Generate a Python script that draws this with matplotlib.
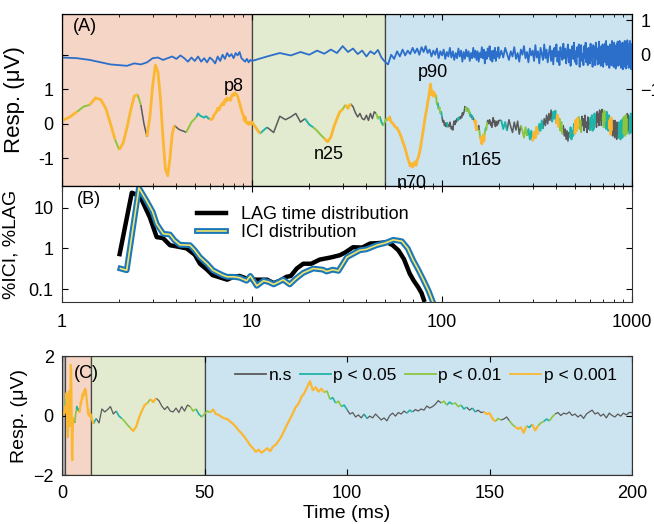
import numpy as np
import matplotlib
matplotlib.use('Agg')
import matplotlib.pyplot as plt
from matplotlib.lines import Line2D

plt.rcParams['font.family'] = ['Liberation Sans', 'DejaVu Sans']

# ---- response (uV): 0.1 ms steps to 10 ms, 1 ms steps to 200 ms, 5 ms steps to 1000 ms
resp_fine = [
    0.0, 0.05, 0.1, 0.08, 0.05, 0.0, 0.05, 0.1, 0.12, 0.1,
    0.09, 0.2, 0.35, 0.5, 0.55, 0.75, 0.7, 0.45, 0.0, -0.45,
    -0.75, -0.55, -0.1, 0.4, 0.8, 0.85, 0.55, 0.0, -0.37, 0.2,
    1.1, 1.7, 1.5, 0.7, -0.4, -1.3, -1.5, -1.0, -0.3, -0.05,
    -0.1, -0.15, -0.18, -0.2, -0.22, -0.25, -0.15, -0.05, 0.05, 0.1,
    0.15, 0.2, 0.3, 0.25, 0.22, 0.2, 0.18, 0.22, 0.2, 0.15,
    0.15, 0.12, 0.15, 0.25, 0.3, 0.35, 0.45, 0.4, 0.5, 0.55,
    0.6, 0.55, 0.7, 0.65, 0.75, 0.7, 0.72, 0.68, 0.8, 0.85,
    0.82, 0.9, 0.88, 0.85, 0.8, 0.7, 0.6, 0.5, 0.4, 0.3,
    0.25, 0.1, 0.2, 0.05, 0.02, 0.05, -0.02, 0.05, 0.0, 0.05,
]
resp_mid = [
    0.05, -0.28, -0.1, -0.25, 0.22, 0.12, 0.2, 0.3, 0.05, 0.15,
    -0.02, -0.1, -0.2, -0.32, -0.42, -0.52, -0.38, -0.08, 0.15, 0.35,
    0.42, 0.55, 0.45, 0.58, 0.5, 0.32, 0.2, 0.3, 0.15, 0.12,
    0.25, 0.1, 0.3, 0.15, 0.35, 0.3, 0.15, 0.22, 0.05, -0.05,
    0.05, 0.15, 0.1, 0.2, 0.05, 0.02, -0.05, -0.1, -0.12, -0.2,
    -0.28, -0.38, -0.5, -0.6, -0.72, -0.85, -1.0, -1.1, -1.22, -1.15,
    -1.25, -1.18, -1.1, -1.2, -1.05, -0.98, -0.85, -0.7, -0.5, -0.3,
    -0.12, 0.08, 0.28, 0.4, 0.62, 0.75, 0.95, 1.15, 0.85, 0.95,
    0.8, 0.9, 0.78, 0.82, 0.55, 0.6, 0.42, 0.48, 0.3, 0.35,
    0.2, 0.05, 0.1, -0.05, 0.02, -0.08, 0.05, -0.1, -0.02, -0.08,
    0.05, -0.05, -0.15, -0.08, -0.18, 0.0, 0.08, -0.02, 0.1, 0.05,
    0.15, 0.08, 0.18, 0.12, 0.2, 0.15, 0.22, 0.18, 0.32, 0.25,
    0.3, 0.38, 0.5, 0.42, 0.48, 0.35, 0.45, 0.38, 0.42, 0.3,
    0.35, 0.22, 0.28, 0.18, 0.25, 0.12, 0.18, 0.1, 0.12, 0.05,
    0.08, -0.1, -0.2, -0.1, -0.15, -0.12, -0.05, -0.18, -0.3, -0.38,
    -0.45, -0.4, -0.58, -0.35, -0.4, -0.3, -0.5, -0.35, -0.25, -0.2,
    -0.12, -0.18, -0.05, 0.05, 0.1, 0.0, 0.08, 0.05, 0.12, 0.0,
    0.05, -0.05, 0.02, -0.1, 0.05, 0.12, 0.18, 0.05, 0.1, -0.02,
    0.05, -0.08, 0.08, 0.0, -0.05, 0.05, -0.02, 0.08, 0.02, 0.1,
]
resp_late = [
    0.1, -0.15, 0.05, -0.2, 0.12, -0.08, -0.25, 0.05, -0.18, 0.08,
    -0.3, -0.05, -0.2, -0.4, -0.1, -0.35, -0.15, -0.45, -0.2, -0.5,
    -0.25, -0.4, -0.1, -0.3, 0.0, -0.2, 0.1, -0.15, 0.15, -0.05,
    0.25, 0.0, 0.3, 0.1, 0.4, 0.05, 0.35, 0.15, 0.38, 0.0,
    0.25, -0.1, 0.15, -0.2, 0.05, -0.3, -0.05, -0.35, -0.15, -0.45,
    -0.2, -0.5, -0.25, -0.4, -0.1, -0.45, -0.2, -0.35, 0.0, -0.3,
    0.1, -0.2, 0.15, -0.1, 0.2, -0.15, 0.1, -0.25, 0.22, -0.05,
    0.15, -0.2, 0.25, -0.1, 0.05, -0.25, 0.2, -0.15, 0.1, -0.2,
    0.18, -0.1, 0.25, -0.2, 0.1, -0.15, 0.3, 0.0, 0.25, -0.1,
    0.35, 0.05, 0.3, -0.05, 0.4, 0.1, 0.35, -0.05, 0.42, 0.1,
    0.3, -0.1, 0.38, 0.05, 0.25, -0.15, 0.35, 0.0, 0.2, -0.2,
    0.25, -0.15, 0.1, -0.3, 0.18, -0.2, 0.05, -0.35, 0.1, -0.25,
    0.0, -0.4, 0.1, -0.3, -0.05, -0.45, 0.05, -0.35, -0.1, -0.42,
    0.05, -0.3, -0.1, -0.45, 0.1, -0.25, 0.0, -0.4, 0.15, -0.3,
    0.2, -0.2, 0.1, -0.35, 0.25, -0.15, 0.15, -0.3, 0.3, -0.1,
    0.25, -0.2, 0.1, -0.3, 0.2, -0.05, 0.3, -0.25, 0.15, -0.1,
]
resp_t = np.concatenate([np.round(np.arange(0, 10, 0.1), 1),
                         np.arange(10, 200, 1.0),
                         np.arange(205, 1001, 5.0)])
resp = np.array(resp_fine + resp_mid + resp_late)

# significance: start time of each run, level (0 n.s, 1 p<.05, 2 p<.01, 3 p<.001)
sig_start = [0.0, 0.5, 1.2, 1.4, 1.85, 2.0, 2.5, 2.6, 2.8, 3.9, 4.5, 5.1, 6.0,
             10.5, 11.5, 19, 21, 23.5, 30, 31, 33, 45, 47, 49, 52,
             92, 94, 96, 98, 100, 106, 107, 121, 123, 133, 135, 137, 140,
             142, 144, 145, 148, 152, 154, 157, 159, 163, 165, 167, 169,
             171, 173, 200, 220, 260, 280, 300, 320, 340, 380, 400, 410,
             430, 470, 500, 520, 540, 600, 640, 700, 720, 760, 780, 850,
             900, 940, 970]
sig_level = [1, 3, 2, 3, 2, 3, 2, 0, 3, 0, 2, 1, 3,
             1, 0, 1, 2, 3, 2, 3, 0, 2, 1, 2, 3,
             2, 1, 2, 1, 0, 1, 0, 1, 0, 2, 1, 2, 1,
             0, 1, 0, 3, 2, 0, 2, 3, 1, 3, 2, 1,
             2, 0, 1, 0, 2, 1, 3, 1, 0, 1, 3, 2,
             0, 1, 3, 2, 0, 1, 0, 2, 1, 3, 0, 1,
             2, 0, 1]
sig_names = ['n.s', 'p < 0.05', 'p < 0.01', 'p < 0.001']

# ---- top trace (right axis, uV)
blue_t = np.concatenate([np.round(np.arange(1.0, 10.01, 0.2), 1),
                         np.arange(12, 201, 2.0),
                         np.arange(205, 1001, 5.0)])
blue_v = np.array([
    -0.08, -0.1, -0.15, -0.22, -0.28, -0.3, -0.32, -0.25, -0.28, -0.22,
    -0.1, -0.08, -0.15, -0.1, -0.05, -0.12, -0.02, -0.1, -0.2, -0.08,
    -0.18, -0.05, -0.2, -0.1, -0.22, -0.08, -0.15, -0.25, -0.05, -0.18,
    0.0, -0.12, 0.05, -0.05, 0.02, -0.1, 0.05, -0.02, 0.08, -0.1,
    -0.15, -0.2, -0.12, -0.22, -0.15, -0.18,
    -0.05, 0.05, -0.02, 0.08, 0.0, 0.12, 0.03, 0.15, 0.05, 0.25,
    0.08, 0.18, 0.02, 0.12, -0.05, 0.1, 0.02, 0.14, -0.08, -0.2,
    -0.28, 0.0, -0.12, 0.1, -0.05, 0.15, -0.02, 0.12, 0.02, 0.2,
    0.05, 0.18, 0.0, 0.22, 0.08, 0.25, 0.05, 0.15, -0.05, 0.12,
    0.0, 0.18, -0.1, 0.1, -0.02,
    0.15, -0.12, 0.08, -0.05, 0.2, -0.08, 0.1, -0.15, 0.05, -0.1,
    0.18, -0.05, 0.12, -0.2, 0.08, -0.12, 0.15, -0.05, 0.1, -0.18,
    0.05, -0.1, 0.2, -0.08, 0.12,
    -0.15, 0.1, -0.2, 0.05, -0.08, 0.22, -0.1, 0.15, -0.25, 0.08,
    -0.12, 0.18, -0.05, 0.25, -0.15, 0.1, -0.2, 0.12, -0.1, 0.2,
    -0.18, 0.08, -0.05, 0.22, -0.1,
    0.12, -0.08, 0.2, 0.02, -0.15, 0.1, -0.05, 0.22, -0.12, 0.05,
    -0.2, 0.15, 0.0, 0.25, -0.1, 0.08, -0.22, 0.18, -0.02, 0.12,
    -0.18, 0.28, -0.08, 0.1, -0.25, 0.2, 0.02, -0.15, 0.3, -0.1,
    0.15, -0.22, 0.05, 0.25, -0.18, 0.12, -0.28, 0.2, -0.05, 0.3,
    -0.2, 0.1, -0.3, 0.22, 0.0, -0.15, 0.32, -0.1, 0.18, -0.25,
    0.08, 0.3, -0.22, 0.15, -0.32, 0.05, 0.25, -0.12, 0.35, -0.2,
    0.1, -0.28, 0.22, -0.05, 0.3, -0.35, 0.12, 0.28, -0.18, 0.02,
    -0.3, 0.25, -0.1, 0.35, -0.22, 0.15, -0.3, 0.2, 0.05, -0.25,
    0.32, -0.15, 0.1, -0.35, 0.28, -0.05, 0.22, -0.3, 0.35, -0.12,
    0.18, -0.28, 0.05, 0.38, -0.25, 0.12, -0.32, 0.25, -0.08, 0.3,
    -0.35, 0.2, -0.1, 0.32, -0.22, 0.4, -0.3, 0.08, 0.25, -0.28,
    0.15, -0.38, 0.3, -0.12, 0.22, -0.3, 0.4, -0.2, 0.1, -0.35,
    0.35, -0.15, 0.25, -0.4, 0.12, 0.3, -0.25, 0.38, -0.32, 0.18,
    -0.1, 0.4, -0.3, 0.2, -0.38, 0.28, -0.15, 0.35, -0.42, 0.22,
    0.05, -0.35, 0.4, -0.22, 0.3, -0.4, 0.18, -0.28, 0.42, -0.1,
    0.3, -0.38, 0.25, -0.3, 0.4, -0.18, 0.32, -0.42, 0.2, -0.25,
])

# ---- distributions (%)
lag_t = [2.0, 2.33, 2.57, 2.9, 3.15, 3.4, 3.7, 4.1, 4.53, 5.0, 5.32, 5.8, 6.2,
         7.4, 8.0, 8.6, 9.4, 10.5, 12.0, 13.0, 14.0, 15.2, 16.0, 17.2, 18.6,
         20.5, 22.7, 26.0, 29.0, 31.0, 34.0, 38.0, 41.8, 46.0, 51.4, 55.0,
         59.0, 63.0, 67.6, 71.0, 75.0, 78.0, 81.0]
lag_v = [0.64, 23.5, 19.6, 5.8, 1.9, 1.8, 1.2, 1.1, 1.0, 0.7, 0.42, 0.3, 0.22,
         0.17, 0.2, 0.21, 0.18, 0.17, 0.17, 0.14, 0.16, 0.2, 0.21, 0.32, 0.42,
         0.42, 0.53, 0.6, 0.68, 0.8, 1.07, 1.05, 1.32, 1.35, 1.42, 1.2,
         0.89, 0.55, 0.24, 0.16, 0.11, 0.08, 0.048]
ici_t = [2.03, 2.19, 2.54, 2.79, 3.0, 3.15, 3.41, 3.7, 3.9, 4.17, 4.72, 5.0,
         5.32, 5.8, 6.23, 7.0, 7.4, 8.0, 8.6, 9.37, 9.8, 10.6, 11.5, 12.2,
         13.0, 14.6, 15.8, 17.0, 18.6, 21.0, 23.6, 24.7, 26.6, 28.5, 31.6,
         36.9, 40.0, 45.3, 50.0, 55.4, 61.5, 66.0, 70.5, 75.0, 79.7, 85.0, 90.0]
ici_v = [0.32, 0.29, 31, 14.8, 8.0, 4.0, 2.3, 2.2, 1.6, 1.23, 1.2, 0.9,
         0.61, 0.42, 0.29, 0.22, 0.2, 0.2, 0.19, 0.16, 0.21, 0.12, 0.16, 0.15,
         0.13, 0.17, 0.13, 0.18, 0.25, 0.32, 0.3, 0.27, 0.3, 0.28, 0.61,
         0.9, 0.95, 1.2, 1.35, 1.63, 1.5, 1.0, 0.51, 0.3, 0.17, 0.09, 0.045]

peaks = [('p8', 8.0, 1.07), ('n25', 25.4, -0.9), ('p90', 89.7, 1.5),
         ('n70', 69.5, -1.72), ('n165', 162, -1.07)]

sig_colors = ['#5a5a5a', '#1fb4a8', '#8cc63f', '#fbb731']
bg_colors = {'salmon': '#f5d5c6', 'green': '#e2ead0', 'blue': '#cce3f0'}


def shade(ax, spans):
    for x0, x1, c in spans:
        ax.axvspan(x0, x1, facecolor=c, edgecolor='#444444', lw=0.9, zorder=0)


def draw_trace(ax, t, v, widths):
    ends = sig_start[1:] + [t[-1] + 1]
    for s, e, lev in zip(sig_start, ends, sig_level):
        i0 = np.searchsorted(t, s)
        i1 = np.searchsorted(t, e)
        seg = slice(i0, min(i1 + 1, len(t)))
        ax.plot(t[seg], v[seg], color=sig_colors[lev], lw=widths[lev],
                zorder=2 + lev * 0.1, solid_capstyle='butt')


def style(ax):
    ax.tick_params(which='both', direction='in', top=True, right=True,
                   labelsize=13, pad=6)
    ax.tick_params(which='major', length=4)
    ax.tick_params(which='minor', length=2.5)
    for sp in ax.spines.values():
        sp.set_color('#333333')
        sp.set_linewidth(0.8)


fig = plt.figure(figsize=(6.54, 5.24), dpi=100)
axA = fig.add_axes([0.0948, 0.645, 0.8716, 0.3283])
axB = fig.add_axes([0.0948, 0.4237, 0.8716, 0.2214])
axC = fig.add_axes([0.0948, 0.0935, 0.8716, 0.2271])

# (A)
ylimA = (-1.8, 3.18)
shade(axA, [(1, 10, bg_colors['salmon']), (10, 50, bg_colors['green']),
            (50, 1000, bg_colors['blue'])])
pos = resp_t > 0
draw_trace(axA, resp_t[pos], resp[pos], [1.1, 1.4, 1.4, 2.0])
axA.set_xscale('log')
axA.set_xlim(1, 1000)
axA.set_ylim(*ylimA)
axA.set_yticks([-1, 0, 1, 2])
axA.set_yticklabels(['-1', '0', '1', ''])
axA.set_xticklabels([])
style(axA)
axA.tick_params(right=False)
axA.set_ylabel('Resp. (μV)', fontsize=16)
axA.yaxis.set_label_coords(-0.065, 0.5)
axA.text(0.019, 0.925, '(A)', transform=axA.transAxes, fontsize=13,
         va='center')
for name, px, py in peaks:
    axA.text(px, py, name, fontsize=13, ha='center', va='center',
             zorder=10, clip_on=False)

axR = axA.twinx()
axR.plot(blue_t, blue_v, color='#2b6fca', lw=1.3)
axR.set_ylim(ylimA[0] - 2, ylimA[1] - 2)
axR.set_yticks([-1, 0, 1])
axR.tick_params(direction='in', labelsize=13, pad=6, length=4)
axR.set_xlim(1, 1000)

# (B)
axB.set_facecolor('none')
axB.plot(lag_t, lag_v, color='black', lw=3.2, solid_capstyle='butt')
axB.plot(ici_t, ici_v, color='#1d78b8', lw=4.2)
axB.plot(ici_t, ici_v, color='#f0e46a', lw=1.2)
axB.set_xscale('log')
axB.set_yscale('log')
axB.set_xlim(1, 1000)
axB.set_ylim(0.048, 34.5)
axB.set_yticks([0.1, 1, 10])
axB.set_yticklabels(['0.1', '1', '10'])
axB.yaxis.set_minor_locator(matplotlib.ticker.NullLocator())
axB.set_xticks([1, 10, 100, 1000])
axB.set_xticklabels(['1', '10', '100', '1000'])
style(axB)
axB.tick_params(axis='x', pad=9)
axB.set_ylabel('%ICI, %LAG', fontsize=14)
axB.yaxis.set_label_coords(-0.075, 0.5)
axB.text(0.026, 0.88, '(B)', transform=axB.transAxes, fontsize=13,
         va='center')
h_lag = Line2D([], [], color='black', lw=3.2)
h_ici = (Line2D([], [], color='#1d78b8', lw=4.2),
         Line2D([], [], color='#f0e46a', lw=1.2))
axB.legend([h_lag, h_ici], ['LAG time distribution', 'ICI distribution'],
           loc='upper left', bbox_to_anchor=(0.225, 0.89), frameon=False,
           fontsize=13, handlelength=1.6, labelspacing=0.05,
           handletextpad=0.8, borderaxespad=0)

# (C)
shade(axC, [(0, 1, '#bdbdbd'), (1, 10, bg_colors['salmon']),
            (10, 50, bg_colors['green']), (50, 200, bg_colors['blue'])])
draw_trace(axC, resp_t, resp, [0.9, 1.2, 1.2, 1.6])
axC.set_xlim(0, 200)
axC.set_ylim(-2, 2)
axC.set_xticks([0, 50, 100, 150, 200])
axC.set_yticks([-2, 0, 2])
style(axC)
axC.tick_params(axis='x', pad=7)
axC.set_xlabel('Time (ms)', fontsize=14, labelpad=2)
axC.set_ylabel('Resp. (μV)', fontsize=14)
axC.yaxis.set_label_coords(-0.06, 0.5)
axC.text(0.021, 0.857, '(C)', transform=axC.transAxes, fontsize=13,
         va='center', zorder=10)
h_sig = [Line2D([], [], color=c, lw=1.3) for c in sig_colors]
axC.legend(h_sig, sig_names, loc='center right', bbox_to_anchor=(0.985, 0.84),
           ncol=4, frameon=False, fontsize=12.5, handlelength=1.8,
           handletextpad=0.15, columnspacing=0.45, borderaxespad=0)

fig.savefig('out.png', dpi=100)
